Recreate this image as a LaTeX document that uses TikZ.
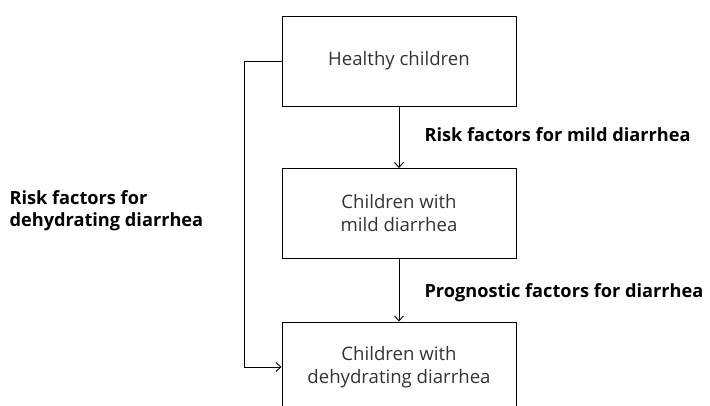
\documentclass[tikz,border=0pt]{standalone}
\usepackage{fontspec}
\setmainfont{Open Sans}
\usetikzlibrary{arrows.meta}

\begin{document}
\begin{tikzpicture}[x=1pt,y=-1pt,>={Straight Barb[length=5pt,width=9pt]},font=\fontsize{18.6}{23}\selectfont,
        box/.style={draw,line width=0.9pt,minimum width=234pt,minimum height=90pt,align=center,text=black!80},
        factor/.style={font=\fontsize{18.2}{22}\selectfont\bfseries,align=left,anchor=west}]
                \useasboundingbox (0,0) rectangle (710,406);
                \clip (0,0) rectangle (710,406);
                \node[box] (healthy) at (399,61) {Healthy children};
                \node[box] (mild) at (399,213.5) {Children with\\mild diarrhea};
                \node[box] (dehyd) at (399,367) {Children with\\dehydrating diarrhea};
                \coordinate (cornerTop) at (244,61);
                \coordinate (cornerBot) at (244,367);
                \draw[->,line width=0.9pt] (healthy)--(mild);
                \draw[->,line width=0.9pt] (mild)--(dehyd);
                \draw[->,line width=0.9pt] (healthy.west)--(cornerTop)--(cornerBot)--(dehyd.west);
                \node[factor] (riskMild) at (421,135) {Risk factors for mild diarrhea};
                \node[factor] (prognostic) at (421,293) {Prognostic factors for diarrhea};
                \node[factor] (riskDehyd) at (6,211) {Risk factors for\\dehydrating diarrhea};
            \end{tikzpicture}
\end{document}
